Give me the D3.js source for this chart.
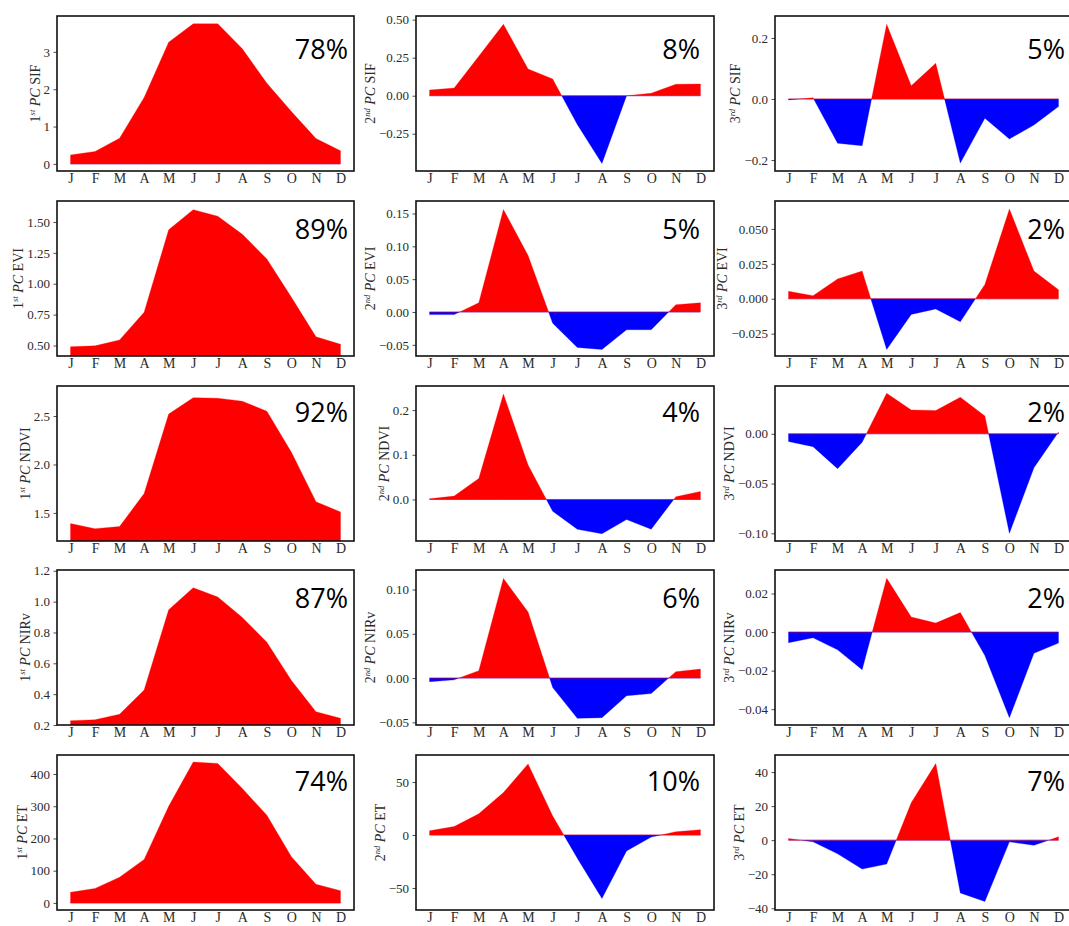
<!DOCTYPE html>
<html>
<head>
<meta charset="utf-8">
<script src="https://cdn.jsdelivr.net/npm/d3@7/dist/d3.min.js"></script>
<style>
  html, body { margin: 0; padding: 0; background: #fff; }
  svg { display: block; }
  .tick text { font-family: "Liberation Serif", "DejaVu Serif", serif; fill: #2b2b2b; }
</style>
</head>
<body>
<svg id="chart" width="1069" height="926"></svg>
<script>
// Monthly principal components (PC1–PC3) of five vegetation / flux variables
const months = ["J", "F", "M", "A", "M", "J", "J", "A", "S", "O", "N", "D"];
const variables = ["SIF", "EVI", "NDVI", "NIRv", "ET"];
const ordinals = [["1", "st"], ["2", "nd"], ["3", "rd"]];

// Series values, one array per variable and component
const sif1 = [0.24, 0.33, 0.69, 1.78, 3.26, 3.75, 3.75, 3.08, 2.16, 1.40, 0.68, 0.35];
const sif2 = [0.037, 0.05, 0.26, 0.47, 0.176, 0.11, -0.19, -0.445, 0.0, 0.016, 0.075, 0.077];
const sif3 = [-0.003, 0.004, -0.145, -0.153, 0.245, 0.043, 0.117, -0.21, -0.063, -0.131, -0.085, -0.025];

const evi1 = [0.49, 0.497, 0.545, 0.77, 1.437, 1.60, 1.547, 1.40, 1.20, 0.89, 0.57, 0.51];
const evi2 = [-0.004, -0.004, 0.014, 0.156, 0.086, -0.017, -0.054, -0.057, -0.027, -0.027, 0.011, 0.014];
const evi3 = [0.0053, 0.0022, 0.0142, 0.0198, -0.0363, -0.0112, -0.0073, -0.0165, 0.0102, 0.0642, 0.0198, 0.0065];

const ndvi1 = [1.39, 1.337, 1.36, 1.70, 2.52, 2.69, 2.684, 2.653, 2.55, 2.125, 1.615, 1.51];
const ndvi2 = [0.0015, 0.0075, 0.047, 0.236, 0.077, -0.0265, -0.0665, -0.077, -0.045, -0.0665, 0.006, 0.018];
const ndvi3 = [-0.0078, -0.0129, -0.035, -0.0085, 0.0406, 0.024, 0.0234, 0.0366, 0.0179, -0.10, -0.034, 0.0017];

const nirv1 = [0.228, 0.234, 0.27, 0.427, 0.947, 1.09, 1.03, 0.897, 0.737, 0.488, 0.286, 0.243];
const nirv2 = [-0.0042, -0.002, 0.0083, 0.1125, 0.0745, -0.0107, -0.0455, -0.0448, -0.020, -0.0175, 0.0072, 0.0102];
const nirv3 = [-0.0055, -0.003, -0.0092, -0.0195, 0.0279, 0.0078, 0.0047, 0.0101, -0.0122, -0.0444, -0.011, -0.0057];

const et1 = [33, 45, 80, 135, 300, 437, 433, 355, 272, 143, 58, 38];
const et2 = [4, 8, 20, 40, 67, 18, -22, -60, -15, -2, 3, 5];
const et3 = [1, -1, -8, -17, -14, 22, 45, -31, -36, -1, -3, 2];

const series = [
  [sif1, sif2, sif3],
  [evi1, evi2, evi3],
  [ndvi1, ndvi2, ndvi3],
  [nirv1, nirv2, nirv3],
  [et1, et2, et3]
];

// Share of variance explained by each component (%)
const explained = [
  [78, 8, 5],
  [89, 5, 2],
  [92, 4, 2],
  [87, 6, 2],
  [74, 10, 7]
];

// Y tick labels per panel
const yTickLabels = [
  [["0", "1", "2", "3"], ["−0.25", "0.00", "0.25", "0.50"], ["−0.2", "0.0", "0.2"]],
  [["0.50", "0.75", "1.00", "1.25", "1.50"], ["−0.05", "0.00", "0.05", "0.10", "0.15"], ["−0.025", "0.000", "0.025", "0.050"]],
  [["1.5", "2.0", "2.5"], ["0.0", "0.1", "0.2"], ["−0.10", "−0.05", "0.00"]],
  [["0.2", "0.4", "0.6", "0.8", "1.0", "1.2"], ["−0.05", "0.00", "0.05", "0.10"], ["−0.04", "−0.02", "0.00", "0.02"]],
  [["0", "100", "200", "300", "400"], ["−50", "0", "50"], ["−40", "−20", "0", "20", "40"]]
];

// Y axis limits per panel
const yLimits = [
  [[-0.19, 3.96], [-0.495, 0.524], [-0.236, 0.272]],
  [[0.415, 1.67], [-0.067, 0.169], [-0.041, 0.070]],
  [[1.21, 2.81], [-0.093, 0.254], [-0.1077, 0.048]],
  [[0.2, 1.205], [-0.053, 0.122], [-0.0482, 0.0322]],
  [[-22, 459], [-70.8, 75.5], [-41, 50]]
];

// ---- layout ----
const colLeft = [57, 416, 775];
const colRight = [354, 714, 1072];
const rowTop = [16, 201, 386, 570, 755];
const panelH = 155;
const labelInset = [6, 14, 7];
const labelDrop = [43, 38, 36, 38, 36];

const POS = "#ff0000";
const NEG = "#0000ff";

const svg = d3.select("#chart");
const defs = svg.append("defs");
const parseTick = s => +s.replace("−", "-");

// Insert zero crossings so that positive and negative parts can be filled separately
function withCrossings(vals) {
  const pts = [];
  for (let i = 0; i < vals.length; i++) {
    pts.push({ x: i, v: vals[i] });
    if (i < vals.length - 1) {
      const a = vals[i], b = vals[i + 1];
      if ((a > 0 && b < 0) || (a < 0 && b > 0)) {
        const t = a / (a - b);
        pts.push({ x: i + t, v: 0 });
      }
    }
  }
  return pts;
}

variables.forEach((name, r) => {
  [0, 1, 2].forEach(c => {
    const vals = series[r][c];
    const x0 = colLeft[c], x1 = colRight[c];
    const y0 = rowTop[r], y1 = rowTop[r] + panelH;

    const x = d3.scaleLinear().domain([-0.55, 11.55]).range([x0, x1]);
    const y = d3.scaleLinear().domain(yLimits[r][c]).range([y1, y0]);

    const g = svg.append("g");
    const clipId = `clip-${r}-${c}`;
    defs.append("clipPath").attr("id", clipId)
      .append("rect").attr("x", x0).attr("y", y0).attr("width", x1 - x0).attr("height", y1 - y0);

    const pts = withCrossings(vals);
    const posArea = d3.area().x(d => x(d.x)).y0(y(0)).y1(d => y(Math.max(d.v, 0)));
    const negArea = d3.area().x(d => x(d.x)).y0(y(0)).y1(d => y(Math.min(d.v, 0)));

    const plot = g.append("g").attr("clip-path", `url(#${clipId})`);
    plot.append("path").attr("d", negArea(pts)).attr("fill", NEG)
      .attr("stroke", NEG).attr("stroke-width", 0.5).attr("stroke-opacity", 0.6);
    plot.append("path").attr("d", posArea(pts)).attr("fill", POS)
      .attr("stroke", POS).attr("stroke-width", 0.5).attr("stroke-opacity", 0.6);

    // axes: month letters sit right under the frame
    const xAxis = d3.axisBottom(x).tickValues(d3.range(12))
      .tickFormat(i => months[i]).tickSize(0).tickPadding(2.5);
    const gx = g.append("g").attr("transform", `translate(0,${y1})`).call(xAxis);
    gx.select(".domain").remove();
    gx.selectAll(".tick line").remove();
    gx.selectAll(".tick text").style("font-size", "14px");

    const labels = yTickLabels[r][c];
    const yAxis = d3.axisLeft(y).tickValues(labels.map(parseTick))
      .tickFormat((d, i) => labels[i]).tickSize(3.5).tickPadding(3.5);
    const gy = g.append("g").attr("transform", `translate(${x0},0)`).call(yAxis);
    gy.select(".domain").remove();
    gy.selectAll(".tick text").style("font-size", "13px");
    gy.selectAll(".tick line").attr("stroke", "#222").attr("stroke-width", 0.8);

    // frame
    g.append("rect").attr("x", x0).attr("y", y0)
      .attr("width", x1 - x0).attr("height", y1 - y0)
      .attr("fill", "none").attr("stroke", "#111").attr("stroke-width", 1.6);

    // y label: e.g. "1st PC SIF", placed just left of the tick labels
    const bb = gy.node().getBBox();
    const lx = x0 + bb.x - 4;
    const cy = (y0 + y1) / 2;
    const t = g.append("text")
      .attr("transform", `translate(${lx},${cy}) rotate(-90)`)
      .attr("text-anchor", "middle")
      .style("font-family", "'Liberation Serif', 'DejaVu Serif', serif")
      .style("font-size", "14px")
      .attr("fill", "#2b2b2b");
    t.append("tspan").text(ordinals[c][0]);
    t.append("tspan").attr("dy", -5).style("font-size", "8.5px").style("font-style", "italic").text(ordinals[c][1]);
    t.append("tspan").attr("dy", 5).text(" ");
    t.append("tspan").style("font-style", "italic").text("PC");
    t.append("tspan").text(" " + name);

    // explained variance
    g.append("text")
      .attr("x", x1 - labelInset[c])
      .attr("y", y0 + labelDrop[r])
      .attr("text-anchor", "end")
      .style("font-family", "'Open Sans', 'Noto Sans', sans-serif")
      .style("font-size", "27px")
      .attr("fill", "#000")
      .text(explained[r][c] + "%");
  });
});
</script>
</body>
</html>
